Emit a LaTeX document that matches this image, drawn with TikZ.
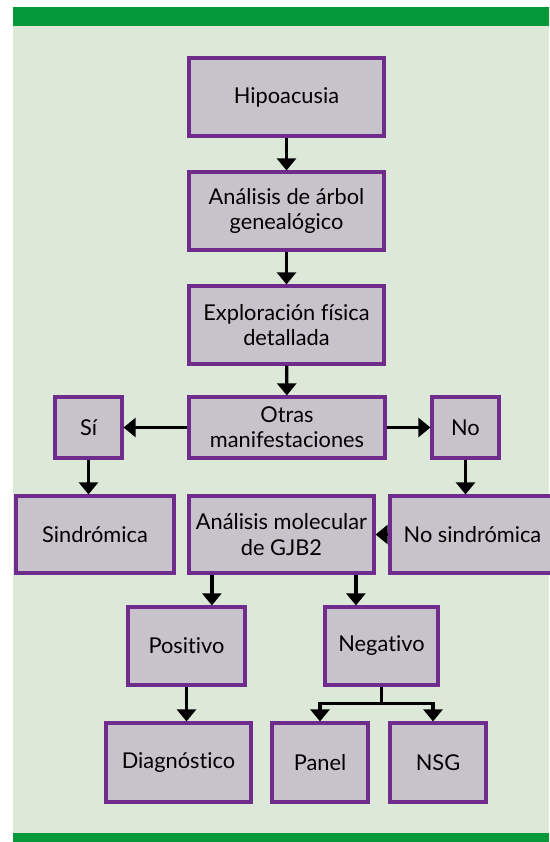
\documentclass[tikz,border=0pt]{standalone}
\usepackage{fontspec}
\setmainfont{Lato}[Ligatures={NoCommon}]
\usetikzlibrary{arrows.meta}
\definecolor{fondo}{RGB}{221,233,216}
\definecolor{verde}{RGB}{5,153,58}
\definecolor{lila}{RGB}{200,195,203}
\definecolor{morado}{RGB}{112,44,140}
\begin{document}
\begin{tikzpicture}[x=0.025cm,y=-0.025cm]
	\tikzstyle{caja}=[rectangle,draw=morado,fill=lila,line width=2.2pt,align=center,inner sep=0pt,font=\fontsize{15.5}{18}\selectfont]
	\tikzstyle{flecha}=[line width=2.4pt,-{Triangle[width=0.47cm,length=0.3cm]}]
	\useasboundingbox (0,0) rectangle (549,842);
	\fill[white] (0,0) rectangle (549,842);
	\fill[fondo] (13,26) rectangle (549,833);
	\fill[verde] (13,7) rectangle (549,26);
	\fill[verde] (13,833) rectangle (549,842);

	\node[caja, minimum width=4.875cm, minimum height=1.95cm] (hipo) at (286.5, 97) {Hipoacusia};
	\node[caja, minimum width=4.875cm, minimum height=1.95cm] (arbol) at (286.5, 211) {Análisis de árbol\\genealógico};
	\node[caja, minimum width=4.875cm, minimum height=1.95cm] (explor) at (286.5, 325) {Exploración física\\detallada};
	\node[caja, minimum width=4.9cm, minimum height=1.525cm] (otras) at (287, 427.5) {Otras\\manifestaciones};
	\node[caja, minimum width=1.675cm, minimum height=1.525cm] (si) at (88.5, 427.5) {Sí};
	\node[caja, minimum width=1.675cm, minimum height=1.525cm] (no) at (465.5, 427.5) {No};
	\node[caja, minimum width=3.95cm, minimum height=1.925cm] (sindro) at (95, 534.5) {Sindrómica};
	\node[caja, minimum width=4.625cm, minimum height=1.925cm] (molec) at (281.5, 534.5) {Análisis molecular\\de GJB2};
	\node[caja, minimum width=4.125cm, minimum height=1.925cm] (nosindro) at (472.5, 534.5) {No sindrómica};
	\node[caja, minimum width=2.925cm, minimum height=1.95cm] (posit) at (186.5, 646) {Positivo};
	\node[caja, minimum width=2.825cm, minimum height=1.95cm] (negat) at (381.5, 646) {Negativo};
	\node[caja, minimum width=3.625cm, minimum height=1.975cm] (diag) at (178.5, 762.5) {Diagnóstico};
	\node[caja, minimum width=2.4cm, minimum height=1.975cm] (panel) at (320, 762.5) {Panel};
	\node[caja, minimum width=2.4cm, minimum height=1.975cm] (nsg) at (438, 762.5) {NSG};

	\coordinate (m1) at ([xshift=-1.74cm]molec.south);
	\coordinate (m2) at ([xshift=1.86cm]molec.south);
	\coordinate (n1) at ([yshift=-0.42cm]negat.south);

	\draw[flecha] (hipo) -- (arbol);
	\draw[flecha] (arbol) -- (explor);
	\draw[flecha] (explor) -- (otras);
	\draw[flecha] (otras) -- (si);
	\draw[flecha] (otras) -- (no);
	\draw[flecha] (si.south) -- (si.south |- sindro.north);
	\draw[flecha] (no.south) -- (no.south |- nosindro.north);
	\draw[flecha] (nosindro) -- (molec);
	\draw[flecha] (m1) -- (m1 |- posit.north);
	\draw[flecha] (m2) -- (m2 |- negat.north);
	\draw[flecha] (posit.south) -- (posit.south |- diag.north);
	\draw[line width=2.4pt] (negat.south) -- (n1);
	\draw[flecha] (n1) -| (panel.north);
	\draw[flecha] (n1) -| ([xshift=-0.125cm]nsg.north);
\end{tikzpicture}
\end{document}
